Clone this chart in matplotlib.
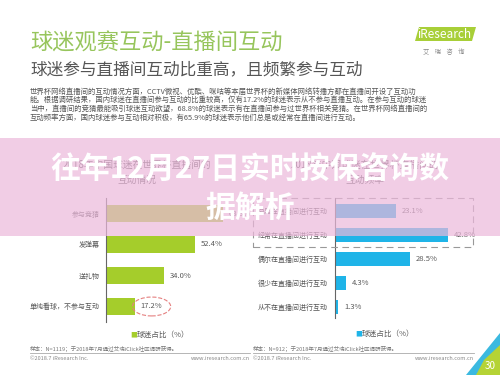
import matplotlib
matplotlib.use("Agg")
import matplotlib.pyplot as plt
from matplotlib.patches import Rectangle, Polygon

plt.rcParams['font.family'] = ['Noto Sans CJK SC', 'DejaVu Sans']

# ---- data ----
left_cats = ["参与竞猜", "发弹幕", "送礼物", "单纯看球，不参与互动"]
left_vals = [68.8, 52.4, 34.0, 17.2]
right_cats = ["总是在直播间进行互动", "经常在直播间进行互动", "偶尔在直播间进行互动",
              "很少在直播间进行互动", "从不在直播间进行互动"]
right_vals = [23.1, 42.8, 28.5, 4.3, 1.3]
legend_label = "球迷占比（%）"

W, H = 500, 375
fig = plt.figure(figsize=(5, 3.75), dpi=100)
fig.patch.set_facecolor('white')

def fx(x): return x / W
def fy(y): return 1 - y / H
def box(x0, y0, x1, y1): return [fx(x0), fy(y1), (x1 - x0) / W, (y1 - y0) / H]

GREEN = '#a5cd2b'
BLUE = '#1fb4e8'
TXT = '#5a5a5a'

# ---- header ----
fig.text(fx(30), fy(43), "球迷观赛互动-直播间互动", fontsize=16, color='#97c55c', va='center', ha='left')
fig.text(fx(30), fy(70), "球迷参与直播间互动比重高，且频繁参与互动", fontsize=12, color='#555555', va='center', ha='left')
para = ["世界杯网络直播间的互动情况方面，CCTV微视、优酷、咪咕等本届世界杯的新媒体网络转播方都在直播间开设了互动功",
        "能。根据调研结果，国内球迷在直播间参与互动的比重较高，仅有17.2%的球迷表示从不参与直播互动。在参与互动的球迷",
        "当中，直播间的竞猜最能吸引球迷互动欲望，68.8%的球迷表示有在直播间参与过世界杯相关竞猜。在世界杯网络直播间的",
        "互动频率方面，国内球迷参与互动相对积极，有65.9%的球迷表示他们总是或经常在直播间进行互动。"]
for i, line in enumerate(para):
    fig.text(fx(30), fy(91.5 + i * 8.7), line, fontsize=5.3, color='#555555', va='center', ha='left')

# logo
fig.patches.append(Polygon([(fx(415), fy(41)), (fx(472), fy(41)), (fx(476), fy(27)), (fx(419), fy(27))],
                           closed=True, transform=fig.transFigure, facecolor='#a8cf38', edgecolor='none'))
fig.text(fx(444), fy(34.5), "iResearch", fontsize=8.5, color='white', ha='center', va='center')
fig.text(fx(444), fy(52), "艾    瑞    咨    询", fontsize=4.5, color='#888888', ha='center', va='center')

# ---- left chart ----
axL = fig.add_axes(box(106, 198, 106 + 1.70 * 80, 322))
yl = list(range(len(left_cats)))
axL.barh(yl, left_vals, height=0.55, color=GREEN)
axL.set_xlim(0, 80)
axL.set_ylim(len(left_cats) - 0.5, -0.5)
axL.set_yticks(yl)
axL.set_yticklabels(left_cats, fontsize=5, color='#555555')
axL.tick_params(axis='y', length=0, pad=4.5)
axL.set_xticks([])
for s in ['top', 'right', 'bottom']:
    axL.spines[s].set_visible(False)
axL.spines['left'].set_color('#666666')
axL.spines['left'].set_linewidth(0.8)
axL.patch.set_alpha(0)
for i, v in enumerate(left_vals):
    kw = {}
    if i == len(left_vals) - 1:
        kw['bbox'] = dict(boxstyle='ellipse,pad=0.35', fc='none', ec='#e58080', ls='--', lw=0.8)
    axL.annotate(f"{v:.1f}%", (v, i), xytext=(4, 0), textcoords='offset points',
                 fontsize=5.5, color=TXT, va='center', ha='left', **kw)
fig.text(fx(137), fy(335), "■", fontsize=5, color=GREEN, ha='right', va='center')
fig.text(fx(137), fy(335), legend_label, fontsize=5.5, color=TXT, ha='left', va='center')
fig.text(fx(137), fy(165), "2018年中国球迷在世界杯直播间的", fontsize=7, color=TXT, ha='center', va='center')
fig.text(fx(137), fy(180), "互动情况", fontsize=7, color=TXT, ha='center', va='center')

# ---- right chart ----
axR = fig.add_axes(box(335, 198, 335 + 2.64 * 50, 318))
yr = list(range(len(right_cats)))
axR.barh(yr, right_vals, height=0.6, color=BLUE)
axR.set_xlim(0, 50)
axR.set_ylim(4.45, -0.54)
axR.set_yticks(yr)
axR.set_yticklabels(right_cats, fontsize=5, color='#555555')
axR.tick_params(axis='y', length=0, pad=5)
axR.set_xticks([])
for s in ['top', 'right', 'bottom']:
    axR.spines[s].set_visible(False)
axR.spines['left'].set_color('#666666')
axR.spines['left'].set_linewidth(0.8)
axR.patch.set_alpha(0)
for i, v in enumerate(right_vals):
    axR.annotate(f"{v:.1f}%", (v, i), xytext=(4, 0), textcoords='offset points',
                 fontsize=5.5, color=TXT, va='center', ha='left')
fig.text(fx(362), fy(334), "■", fontsize=5, color=BLUE, ha='right', va='center')
fig.text(fx(362), fy(334), legend_label, fontsize=5.5, color=TXT, ha='left', va='center')
fig.text(fx(365), fy(165), "2018年中国球迷在世界杯直播间的", fontsize=7, color=TXT, ha='center', va='center')
fig.text(fx(365), fy(180), "互动频率", fontsize=7, color=TXT, ha='center', va='center')
fig.patches.append(Rectangle((fx(253), fy(247)), (473 - 253) / W, (247 - 198) / H, transform=fig.transFigure,
                             fill=False, ec='#999999', ls=(0, (6, 4)), lw=0.8))

# ---- footers ----
for x0, x1, n in [(30, 250, "1119"), (253, 474, "912")]:
    fig.text(fx(x0), fy(348.5), f"样本：N={n}；于2018年7月通过艾瑞iClick社区调研获得。", fontsize=4, color='#777777', ha='left', va='center')
    fig.lines.append(plt.Line2D([fx(x0), fx(x1)], [fy(352.5), fy(352.5)], transform=fig.transFigure, color='#aaaaaa', lw=0.6))
    fig.text(fx(x0), fy(359), "©2018.7 iResearch Inc.", fontsize=4, color='#888888', ha='left', va='center')
    fig.text(fx(x1), fy(359), "www.iresearch.com.cn", fontsize=4, color='#888888', ha='right', va='center')

# corner decoration
fig.patches.append(Polygon([(fx(500), fy(333)), (fx(500), fy(375)), (fx(466), fy(375))], closed=True,
                           transform=fig.transFigure, facecolor='#3bb9e0', edgecolor='none'))
fig.patches.append(Polygon([(fx(500), fy(345)), (fx(500), fy(375)), (fx(476), fy(375)), (fx(484), fy(360))], closed=True,
                           transform=fig.transFigure, facecolor='#b5d335', edgecolor='none'))
fig.text(fx(490), fy(366), "30", fontsize=7, color='white', ha='center', va='center')

# ---- pink overlay band + big title ----
fig.patches.append(Rectangle((0, fy(236)), 1, (236 - 138) / H, transform=fig.transFigure,
                             facecolor='#ecb8db', alpha=0.7, edgecolor='none', zorder=5))
fig.text(0.5, fy(170), "往年12月27日实时按保咨询数", fontsize=21.5, fontweight='bold', color='white',
         ha='center', va='center', zorder=6)
fig.text(0.5, fy(208), "据解析", fontsize=21.5, fontweight='bold', color='white',
         ha='center', va='center', zorder=6)

fig.savefig("out.png", dpi=100)
